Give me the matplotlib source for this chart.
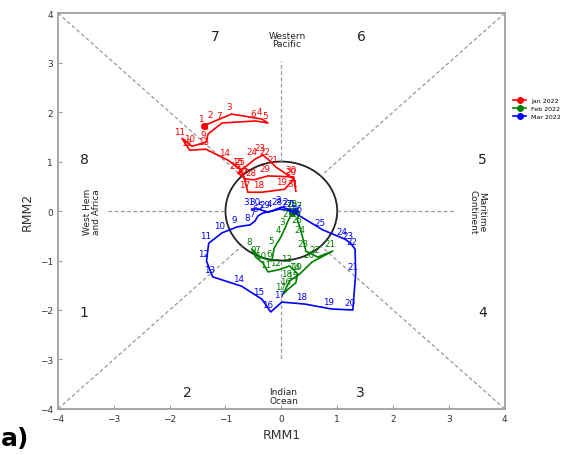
import matplotlib.pyplot as plt
import numpy as np
from matplotlib.patches import Circle

# RMM1 / RMM2 daily values
jan_rmm1 = [-1.39, -1.23, -0.89, -0.35, -0.24, -0.46, -1.06, -1.31, -1.35, -1.60,
            -1.78, -1.64, -1.35, -0.96, -0.74, -0.67, -0.60, -0.35, 0.06, 0.22,
            -0.10, -0.24, -0.33, -0.47, -0.69, -0.78, -0.64, -0.49, -0.24, 0.22, 0.26]
jan_rmm2 = [1.72, 1.80, 1.96, 1.86, 1.78, 1.82, 1.78, 1.56, 1.39, 1.31,
            1.47, 1.23, 1.25, 1.03, 0.85, 0.69, 0.38, 0.38, 0.44, 0.65,
            0.89, 1.05, 1.13, 1.05, 0.85, 0.77, 0.65, 0.63, 0.71, 0.69, 0.40]

feb_rmm1 = [0.19, 0.12, 0.06, -0.01, -0.13, -0.17, -0.39, -0.53, -0.46, -0.33,
            -0.24, -0.06, 0.15, 0.29, 0.26, 0.12, 0.03, 0.15, 0.33, 0.55,
            0.92, 0.65, 0.44, 0.38, 0.33, 0.28, 0.33, 0.24]
feb_rmm2 = [-0.04, -0.20, -0.36, -0.53, -0.75, -1.01, -0.93, -0.77, -0.93, -1.05,
            -1.23, -1.19, -1.11, -1.27, -1.45, -1.58, -1.68, -1.41, -1.27, -1.03,
            -0.81, -0.93, -0.81, -0.53, -0.32, -0.16, -0.04, 0.0]

mar_rmm1 = [0.24, 0.12, 0.0, -0.17, -0.33, -0.42, -0.47, -0.56, -0.79, -1.06,
            -1.30, -1.34, -1.23, -0.71, -0.35, -0.19, 0.01, 0.42, 0.90, 1.28,
            1.33, 1.32, 1.24, 1.14, 0.74, 0.33, 0.15, -0.03, -0.24, -0.42, -0.53]
mar_rmm2 = [0.0, 0.04, 0.08, 0.0, -0.04, -0.10, -0.20, -0.28, -0.32, -0.44,
            -0.65, -1.01, -1.33, -1.52, -1.78, -2.04, -1.84, -1.88, -1.98, -2.00,
            -1.27, -0.77, -0.65, -0.57, -0.38, -0.10, 0.0, 0.04, -0.02, 0.04, 0.04]

series = [
    ("Jan 2022", jan_rmm1, jan_rmm2, "red"),
    ("Feb 2022", feb_rmm1, feb_rmm2, "green"),
    ("Mar 2022", mar_rmm1, mar_rmm2, "blue"),
]

phase_labels = ["1", "2", "3", "4", "5", "6", "7", "8"]
phase_x = [-3.53, -1.69, 1.42, 3.6, 3.6, 1.44, -1.19, -3.53]
phase_y = [-2.04, -3.66, -3.66, -2.04, 1.05, 3.54, 3.54, 1.05]

ticks = [-4, -3, -2, -1, 0, 1, 2, 3, 4]

fig = plt.figure(figsize=(5.73, 4.56), dpi=100)
ax = fig.add_axes([0.101, 0.101, 0.780, 0.868])
ax.set_xlim(-4, 4)
ax.set_ylim(-4, 4)

grey = "#a0a0a0"
dash = dict(color="#999999", linestyle=(0, (3, 2)), linewidth=0.9)
r = np.sqrt(0.5)
for sx, sy in [(-1, 1), (1, 1), (-1, -1), (1, -1)]:
    ax.plot([sx * 4, sx * r], [sy * 4, sy * r], **dash)
ax.plot([-3.1, -1], [0, 0], **dash)
ax.plot([1, 3.1], [0, 0], **dash)
ax.plot([0, 0], [1, 3.03], **dash)
ax.plot([0, 0], [-1, -3.03], **dash)

ax.add_patch(Circle((0, 0), 1, fill=False, edgecolor="#222222", linewidth=1.3))

for name, xs, ys, col in series:
    ax.plot(xs, ys, color=col, linewidth=1.2, marker="o", markersize=4,
            markevery=[0], label=name)
    for i, (x, y) in enumerate(zip(xs, ys)):
        ax.annotate(str(i + 1), (x, y), xytext=(-2, 2), textcoords="offset points",
                    fontsize=6.3, color=col, ha="center", va="bottom")

for lab, x, y in zip(phase_labels, phase_x, phase_y):
    ax.text(x, y, lab, fontsize=10, ha="center", va="center", color="#222222")

ax.text(0.1, 3.47, "Western\nPacific", fontsize=6.5, ha="center", va="center",
        linespacing=0.9, color="#222222")
ax.text(0.04, -3.74, "Indian\nOcean", fontsize=6.5, ha="center", va="center",
        linespacing=0.9, color="#222222")
ax.text(-3.39, 0, "West Hem\nand Africa", fontsize=6.5, ha="center", va="center",
        rotation=90, linespacing=0.9, color="#222222")
ax.text(3.51, 0, "Maritime\nContinent", fontsize=6.5, ha="center", va="center",
        rotation=-90, linespacing=0.9, color="#222222")

ax.set_xticks(ticks)
ax.set_yticks(ticks)
ax.tick_params(direction="in", length=3, labelsize=6.5, color=grey, labelcolor="#333333")
for sp in ax.spines.values():
    sp.set_color(grey)
    sp.set_linewidth(1.3)
ax.set_xlabel("RMM1", fontsize=9, color="#333333")
ax.set_ylabel("RMM2", fontsize=9, color="#333333")

fig.legend(loc="center left", bbox_to_anchor=(0.885, 0.76), fontsize=4.5,
           frameon=False, handlelength=2.2, labelspacing=0.4)

fig.text(0.002, 0.022, "a)", fontsize=18, fontweight="bold")

fig.savefig("out.png", dpi=100)
